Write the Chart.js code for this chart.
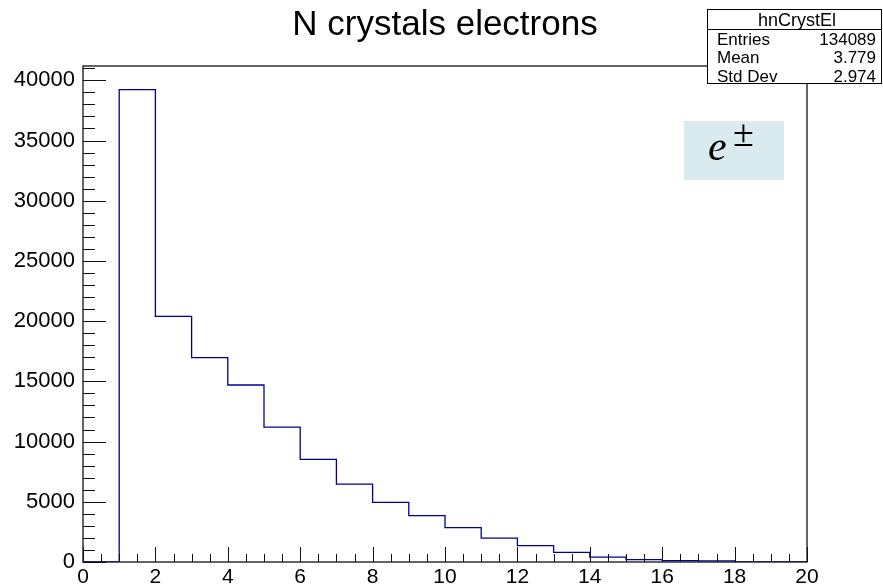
<!DOCTYPE html>
<html>
<head>
<meta charset="utf-8">
<script src="https://cdn.jsdelivr.net/npm/chart.js@4.4.0/dist/chart.umd.min.js"></script>
<style>
  html, body { margin: 0; padding: 0; background: #fff; }
  canvas { display: block; }
</style>
</head>
<body>
<canvas id="hist" width="883" height="585"></canvas>
<script>
// histogram: 20 bins of width 1 starting at 0
const binLow = 0;
const binWidth = 1;
const counts = [0, 39230, 20400, 16970, 14700, 11200, 8520, 6470, 4950, 3850,
                2850, 1985, 1355, 800, 400, 200, 110, 90, 0, 0];

const xTickValues = [0, 2, 4, 6, 8, 10, 12, 14, 16, 18, 20];
const yTickValues = [0, 5000, 10000, 15000, 20000, 25000, 30000, 35000, 40000];
const xMinorStep = 0.5;
const yMinorStep = 1000;

const title = 'N crystals electrons';
const statName = 'hnCrystEl';
const statLabels = ['Entries', 'Mean', 'Std Dev'];
const statValues = ['134089', '3.779', '2.974'];

// outline points at the left edge of each bin, plus the closing right edge
const points = counts.map((c, i) => ({ x: binLow + i * binWidth, y: c }));
points.push({ x: binLow + counts.length * binWidth, y: counts[counts.length - 1] });

const FONT = '"Liberation Sans", Arial, Helvetica, sans-serif';

// ROOT-like frame, inward ticks, title, stats box and the e± label
const rootStyle = {
  id: 'rootStyle',
  afterDraw(chart) {
    const { ctx, chartArea: a, scales: { x, y } } = chart;
    ctx.save();

    // frame
    ctx.strokeStyle = '#111';
    ctx.lineWidth = 1.3;
    ctx.strokeRect(a.left, a.top, a.right - a.left, a.bottom - a.top);

    // ticks
    ctx.beginPath();
    ctx.lineWidth = 1;
    for (let v = 0; v <= y.max; v += yMinorStep) {
      const py = Math.round(y.getPixelForValue(v)) + 0.5;
      const len = yTickValues.includes(v) ? 23 : 12;
      ctx.moveTo(a.left, py);
      ctx.lineTo(a.left + len, py);
    }
    for (let v = x.min; v <= x.max + 1e-9; v += xMinorStep) {
      const px = Math.round(x.getPixelForValue(v)) + 0.5;
      const len = xTickValues.includes(v) ? 15 : 8;
      ctx.moveTo(px, a.bottom);
      ctx.lineTo(px, a.bottom - len);
    }
    ctx.stroke();

    // title
    ctx.fillStyle = '#000';
    ctx.font = '35px ' + FONT;
    ctx.textAlign = 'center';
    ctx.textBaseline = 'alphabetic';
    ctx.fillText(title, 445, 35);

    // stats box
    const bx = 707.5, by = 9.5, bw = 174, bh = 74;
    ctx.fillStyle = '#fff';
    ctx.fillRect(bx, by, bw, bh);
    ctx.strokeStyle = '#000';
    ctx.lineWidth = 1;
    ctx.strokeRect(bx, by, bw, bh);
    ctx.beginPath();
    ctx.moveTo(bx, 29.5);
    ctx.lineTo(bx + bw, 29.5);
    ctx.stroke();
    ctx.fillStyle = '#000';
    ctx.font = '18px ' + FONT;
    ctx.textAlign = 'center';
    ctx.fillText(statName, 797, 26);
    ctx.font = '17px ' + FONT;
    statLabels.forEach((lab, i) => {
      const ty = 45 + i * 18.3;
      ctx.textAlign = 'left';
      ctx.fillText(lab, 717, ty);
      ctx.textAlign = 'right';
      ctx.fillText(statValues[i], 876, ty);
    });

    // e± label
    ctx.fillStyle = '#daebef';
    ctx.fillRect(684, 121, 100, 59);
    ctx.fillStyle = '#000';
    ctx.textAlign = 'left';
    ctx.font = 'italic 42px "Liberation Serif", "DejaVu Serif", serif';
    ctx.fillText('e', 708, 160);
    ctx.font = '38px "Liberation Serif", "DejaVu Serif", serif';
    ctx.fillText('\u00b1', 733, 146);

    ctx.restore();
  }
};

new Chart(document.getElementById('hist'), {
  type: 'line',
  data: {
    datasets: [{
      data: points,
      stepped: 'before',
      borderColor: '#000099',
      borderWidth: 1.3,
      pointRadius: 0,
      fill: false
    }]
  },
  options: {
    responsive: false,
    animation: false,
    layout: { padding: { top: 66, right: 76, bottom: 0, left: 0 } },
    plugins: {
      legend: { display: false },
      tooltip: { enabled: false },
      title: { display: false }
    },
    scales: {
      x: {
        type: 'linear',
        min: 0,
        max: 20,
        grid: { display: false },
        border: { display: false },
        ticks: {
          color: '#000',
          font: { family: FONT, size: 21 },
          padding: -5,
          maxRotation: 0,
          autoSkip: false,
          callback: v => String(v)
        },
        afterBuildTicks: s => { s.ticks = xTickValues.map(v => ({ value: v })); },
        afterFit: s => { s.height = 23; }
      },
      y: {
        min: 0,
        max: 41190,
        grid: { display: false },
        border: { display: false },
        ticks: {
          color: '#000',
          font: { family: FONT, size: 22 },
          padding: 0,
          autoSkip: false,
          callback: v => String(v)
        },
        afterBuildTicks: s => { s.ticks = yTickValues.map(v => ({ value: v })); },
        afterFit: s => { s.width = 83; }
      }
    }
  },
  plugins: [rootStyle]
});
</script>
</body>
</html>
